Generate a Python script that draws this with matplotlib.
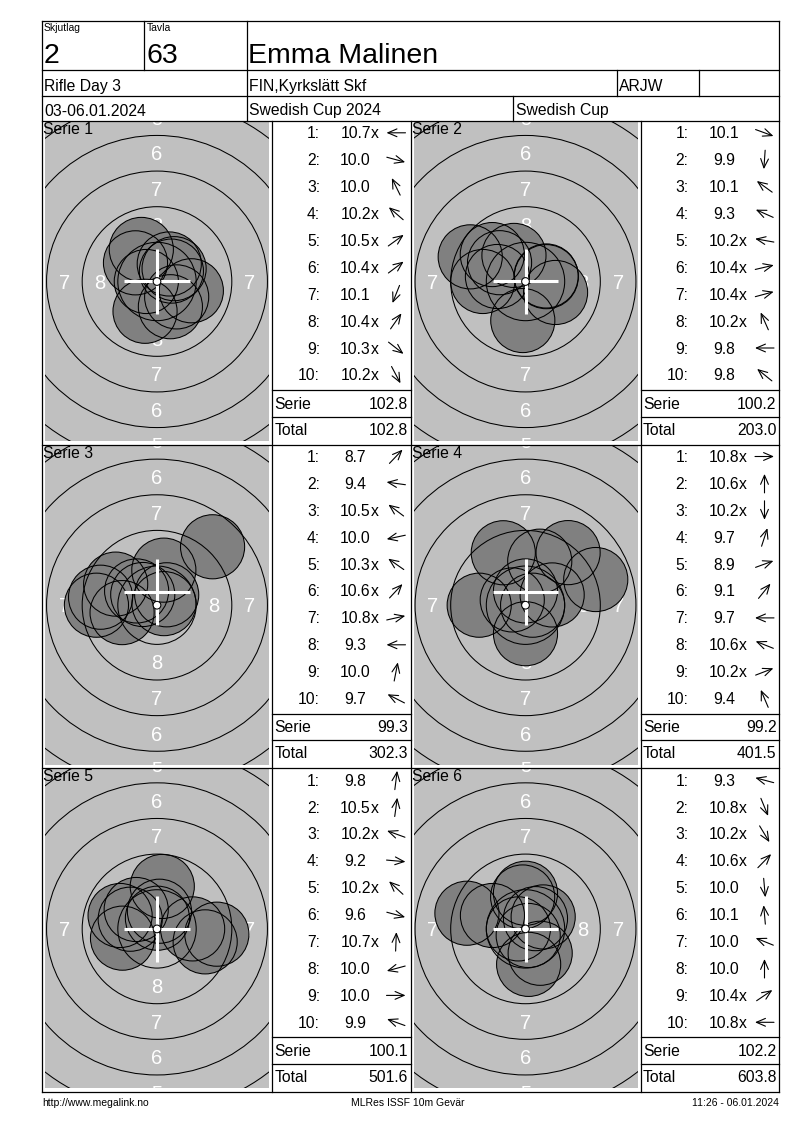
import math
import matplotlib
matplotlib.use('Agg')
import matplotlib.pyplot as plt
from matplotlib.patches import Circle, Rectangle

plt.rcParams['font.family'] = ['Liberation Sans', 'DejaVu Sans']

# header texts
skjutlag = '2'
tavla = '63'
shooter = 'Emma Malinen'
event = 'Rifle Day 3'
club = 'FIN,Kyrkslätt Skf'
klass = 'ARJW'
dates = '03-06.01.2024'
competition = 'Swedish Cup 2024'
cup = 'Swedish Cup'
footer_left = 'http://www.megalink.no'
footer_mid = 'MLRes ISSF 10m Gevär'
footer_right = '11:26 - 06.01.2024'

# scores of each serie
scores1 = [10.7, 10.0, 10.0, 10.2, 10.5, 10.4, 10.1, 10.4, 10.3, 10.2]
scores2 = [10.1, 9.9, 10.1, 9.3, 10.2, 10.4, 10.4, 10.2, 9.8, 9.8]
scores3 = [8.7, 9.4, 10.5, 10.0, 10.3, 10.6, 10.8, 9.3, 10.0, 9.7]
scores4 = [10.8, 10.6, 10.2, 9.7, 8.9, 9.1, 9.7, 10.6, 10.2, 9.4]
scores5 = [9.8, 10.5, 10.2, 9.2, 10.2, 9.6, 10.7, 10.0, 10.0, 9.9]
scores6 = [9.3, 10.8, 10.2, 10.6, 10.0, 10.1, 10.0, 10.0, 10.4, 10.8]

# shot positions on the target, mm from centre
x1 = [-0.75, 2.41, -1.10, -1.51, 1.01, 1.20, -0.84, 0.86, 1.38, 0.94]
y1 = [0.00, -0.65, 2.25, 1.31, 0.73, 0.90, -2.09, 1.23, -1.08, -1.77]
x2 = [2.11, -0.19, -1.82, -3.88, -1.97, 1.46, 1.45, -0.81, -3.00, -2.33]
y2 = [-0.77, -2.74, 1.32, 1.73, 0.35, 0.34, 0.39, 1.83, 0.00, 1.89]
x3 = [3.90, -3.96, -1.00, -2.45, -1.43, 0.68, 0.49, -4.25, 0.48, -2.90]
y3 = [4.10, 0.56, 0.75, -0.52, 1.00, 0.73, 0.11, 0.00, 2.46, 1.48]
x4 = [0.50, 0.00, 0.00, 1.00, 4.93, 2.99, -3.25, -0.93, 1.87, -1.56]
y4 = [0.00, 1.00, -2.00, 3.09, 1.80, 3.69, 0.00, 0.37, 0.72, 3.68]
x5 = [0.37, 0.17, -1.88, 4.20, -1.46, 3.38, 0.03, -2.42, 2.50, -2.59]
y5 = [2.98, 1.24, 0.68, -0.37, 1.36, -0.91, 0.75, -0.65, 0.00, 0.94]
x6 = [-4.11, 0.19, 1.03, 0.70, 0.22, -0.20, -2.32, 0.00, 1.24, -0.50]
y6 = [1.10, -0.46, -1.71, 0.72, -2.49, 2.24, 0.94, 2.50, 0.84, 0.00]

# crosshair centre per serie (mm)
cross_x = [0.0, 0.0, 0.0, 0.0, 0.0, 0.0]
cross_y = [0.0, 0.0, 0.93, 0.93, 0.0, 0.0]

all_scores = [scores1, scores2, scores3, scores4, scores5, scores6]
all_x = [x1, x2, x3, x4, x5, x6]
all_y = [y1, y2, y3, y4, y5, y6]

W, H = 800, 1130
PX_MM = 14.25
SHOT_R = 2.25
FS = 11.3

fig = plt.figure(figsize=(W / 100, H / 100), dpi=100)

row_tops = [121 + 323.7 * r for r in range(3)]
cell_lefts = [42, 410.5]

# targets
for k in range(6):
    r, c = k // 2, k % 2
    gx = cell_lefts[c] + 3
    gy = row_tops[r] + 1
    gw, gh = 224, 319
    half_w, half_h = gw / 2 / PX_MM, gh / 2 / PX_MM
    ax = fig.add_axes([gx / W, 1 - (gy + gh) / H, gw / W, gh / H])
    ax.set_xlim(-half_w, half_w)
    ax.set_ylim(-half_h, half_h)
    ax.set_axis_off()
    ax.add_patch(Rectangle((0, 0), 1, 1, transform=ax.transAxes,
                           fc='#c0c0c0', ec='none', zorder=0))
    # ring numbers (only those that reach into the panel)
    for n in range(1, 9):
        mid = 2.5 * (10 - n) - 1.0
        for dx, dy in [(0, 1), (0, -1), (1, 0), (-1, 0)]:
            if dx and mid > half_w + 0.6:
                continue
            if dy and mid > half_h + 0.6:
                continue
            ax.text(dx * mid, dy * mid - 0.5, str(n), color='white',
                    fontsize=14.5, ha='center', va='baseline',
                    clip_on=True, zorder=1)
    xs, ys = all_x[k], all_y[k]
    for i in range(len(xs)):
        ax.add_patch(Circle((xs[i], ys[i]), SHOT_R, fc='#808080',
                            ec='none', zorder=2))
    for i in range(len(xs)):
        ax.add_patch(Circle((xs[i], ys[i]), SHOT_R, fill=False,
                            ec='black', lw=0.75, zorder=3))
    for n in range(1, 10):
        ax.add_patch(Circle((0, 0), 0.25 + 2.5 * (10 - n), fill=False,
                            ec='black', lw=0.75, zorder=3))
    cx, cy = cross_x[k], cross_y[k]
    ax.plot([cx - 2.3, cx + 2.3], [cy, cy], color='white', lw=2.2,
            solid_capstyle='butt', zorder=4)
    ax.plot([cx, cx], [cy - 2.3, cy + 2.3], color='white', lw=2.2,
            solid_capstyle='butt', zorder=4)
    ax.add_patch(Circle((0, 0), 0.27, fc='white', ec='black', lw=0.75,
                        zorder=5))

# overlay for frames and text
ov = fig.add_axes([0, 0, 1, 1], zorder=10)
ov.set_xlim(0, W)
ov.set_ylim(H, 0)
ov.set_axis_off()

LW = 0.9
L, R, T, B = 42, 779, 21, 1092.1


def hline(y, x0, x1):
    ov.plot([x0, x1], [y, y], color='black', lw=LW)


def vline(x, y0, y1):
    ov.plot([x, x], [y0, y1], color='black', lw=LW)


# outer box and header grid
hline(T, L, R)
hline(B, L, R)
vline(L, T, B)
vline(R, T, B)
hline(70, L, R)
hline(95.5, L, R)
hline(121, L, R)
vline(144.3, T, 70)
vline(246.7, T, 121)
vline(616.7, 70, 95.5)
vline(698.7, 70, 95.5)
vline(513, 95.5, 121)

ov.text(44, 30.7, 'Skjutlag', fontsize=7.5, va='baseline')
ov.text(146.5, 30.7, 'Tavla', fontsize=7.5, va='baseline')
ov.text(43.5, 63.3, skjutlag, fontsize=20.5, va='baseline')
ov.text(146, 63.3, tavla, fontsize=20.5, va='baseline')
ov.text(248.5, 63.3, shooter, fontsize=20.5, va='baseline')
ov.text(44, 91, event, fontsize=FS, va='baseline')
ov.text(249, 91, club, fontsize=FS, va='baseline')
ov.text(619, 91, klass, fontsize=FS, va='baseline')
ov.text(44, 115.5, dates, fontsize=FS, va='baseline')
ov.text(249, 115.5, competition, fontsize=FS, va='baseline')
ov.text(516, 115.5, cup, fontsize=FS, va='baseline')

# panel grid
for r in range(1, 3):
    hline(row_tops[r], L, R)
vline(272, 121, B)
vline(410.5, 121, B)
vline(640.5, 121, B)

total = 0.0
for k in range(6):
    r, c = k // 2, k % 2
    top = row_tops[r]
    tl = cell_lefts[c] + 230
    tr = tl + 138.5
    ov.text(cell_lefts[c] + 1.3, top + 13, 'Serie %d' % (k + 1),
            fontsize=FS, va='baseline')
    sc = all_scores[k]
    for i in range(len(sc)):
        yb = top + 17.3 + 26.9 * i
        ov.text(tl + 48, yb, '%d:' % (i + 1), fontsize=FS, ha='right',
                va='baseline')
        ov.text(tl + 83.5, yb, '%.1f' % sc[i], fontsize=FS, ha='center',
                va='baseline')
        if sc[i] >= 10.2:
            ov.text(tl + 98.5, yb, 'x', fontsize=FS, ha='left',
                    va='baseline')
        ang = math.atan2(all_y[k][i], all_x[k][i])
        ax_c, ay_c = tl + 124, yb - 5.5
        dxa, dya = 9.5 * math.cos(ang), -9.5 * math.sin(ang)
        ov.annotate('', xy=(ax_c + dxa, ay_c + dya),
                    xytext=(ax_c - dxa, ay_c - dya),
                    arrowprops=dict(arrowstyle='->,head_length=0.65,head_width=0.28',
                                    lw=0.8, color='black',
                                    shrinkA=0, shrinkB=0))
    serie_sum = round(sum(sc), 1)
    total = round(total + serie_sum, 1)
    hline(top + 269, tl, tr)
    hline(top + 295.7, tl, tr)
    ov.text(tl + 2.5, top + 287.7, 'Serie', fontsize=FS, va='baseline')
    ov.text(tr - 2.5, top + 287.7, '%.1f' % serie_sum, fontsize=FS,
            ha='right', va='baseline')
    ov.text(tl + 2.5, top + 313.7, 'Total', fontsize=FS, va='baseline')
    ov.text(tr - 2.5, top + 313.7, '%.1f' % total, fontsize=FS,
            ha='right', va='baseline')

# footer
ov.text(42, 1106.5, footer_left, fontsize=7.5, va='baseline')
ov.text(408, 1106.5, footer_mid, fontsize=7.5, ha='center', va='baseline')
ov.text(779, 1106.5, footer_right, fontsize=7.5, ha='right', va='baseline')

fig.savefig('out.png', dpi=100)
